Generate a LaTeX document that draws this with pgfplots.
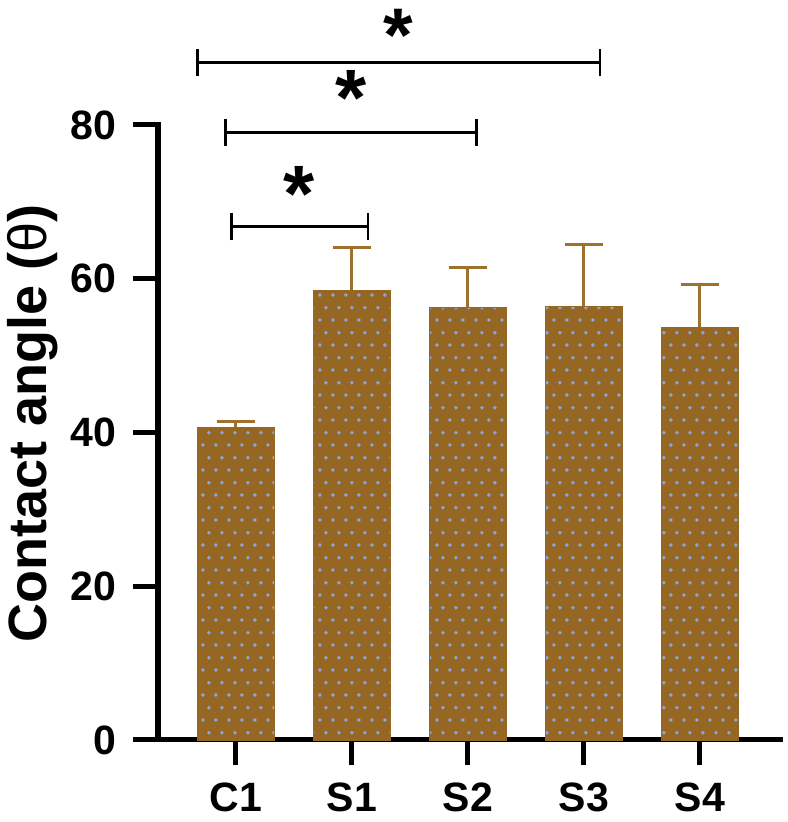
\documentclass[border=0pt]{standalone}
\usepackage{fontspec}
\setmainfont{Liberation Sans}
\usepackage{pgfplots}
\usepackage{pgfplotstable}
\pgfplotsset{compat=1.18}
\usetikzlibrary{patterns}
\definecolor{barc}{RGB}{150,102,35}
\definecolor{errc}{RGB}{160,112,45}
\definecolor{dotc}{RGB}{140,165,215}
\pgfdeclarepatternformonly{mydots}{\pgfqpoint{0pt}{0pt}}{\pgfqpoint{6.25pt}{12.4pt}}{\pgfqpoint{6.25pt}{12.4pt}}{%
  \pgfpathcircle{\pgfqpoint{1.5pt}{1.5pt}}{1.0pt}%
  \pgfpathcircle{\pgfqpoint{4.625pt}{7.7pt}}{1.0pt}%
  \pgfusepath{fill}%
}
\pgfplotstableread{
x y err
0 40.7 0.7
1 58.5 5.5
2 56.3 5.1
3 56.4 8.0
4 53.7 5.5
}\datatable
\begin{document}
\begin{tikzpicture}
\path[use as bounding box] (-79pt,-41pt) rectangle (314.5pt,370pt);
\begin{axis}[
  at={(0pt,0pt)}, anchor=south west,
  scale only axis, width=311pt, height=307.5pt,
  xmin=-0.67, xmax=4.69, ymin=0, ymax=80,
  axis x line=bottom, axis y line=left,
  axis line style={-, line width=2.5pt, black, line cap=rect},
  tick align=outside, major tick length=12.5pt,
  tick style={line width=2.5pt, black},
  xtick={0,1,2,3,4}, xticklabels={C1,S1,S2,S3,S4},
  ytick={0,20,40,60,80},
  /pgf/number format/assume math mode=true,
  ticklabel style={font=\fontsize{20.5}{24}\selectfont\bfseries},
  yticklabel style={xshift=-5pt},
  xticklabel style={yshift=-5.5pt},
  ylabel={Contact angle ({\mdseries θ})},
  ylabel style={font=\fontsize{27}{30}\selectfont\bfseries, inner sep=0pt, at={(axis description cs:-0.243,0.515)}, anchor=north},
  clip=false,
  unbounded coords=jump,
]
\addplot[ybar, bar width=38.5pt, bar shift=0pt, fill=barc, draw=barc, line width=0.3pt,
  postaction={pattern=mydots, pattern color=dotc},
  error bars/.cd, y dir=plus, y explicit,
  error bar style={line width=1.5pt, color=errc, solid},
  error mark options={rotate=90, mark size=9.5pt, line width=1.5pt, color=errc}]
  table[x=x, y=y, y error=err] {\datatable};
% significance brackets
\addplot[black, line width=1.3pt, mark=none] coordinates {(-0.037,65.0) (-0.037,68.55) (-0.037,nan) (-0.037,66.77) (1.14,66.77) (1.14,nan) (1.14,65.0) (1.14,68.55)};
\addplot[black, line width=1.3pt, mark=none] coordinates {(-0.086,77.3) (-0.086,80.8) (-0.086,nan) (-0.086,79.05) (2.075,79.05) (2.075,nan) (2.075,77.3) (2.075,80.8)};
\addplot[black, line width=1.3pt, mark=none] coordinates {(-0.33,86.35) (-0.33,89.85) (-0.33,nan) (-0.33,88.1) (3.14,88.1) (3.14,nan) (3.14,86.35) (3.14,89.85)};
\node[font=\fontsize{40}{40}\selectfont\bfseries, inner sep=0pt, anchor=base] at (axis cs:0.543,67.5) {*};
\node[font=\fontsize{40}{40}\selectfont\bfseries, inner sep=0pt, anchor=base] at (axis cs:0.991,79.9) {*};
\node[font=\fontsize{38}{38}\selectfont\bfseries, inner sep=0pt, anchor=base] at (axis cs:1.397,88.3) {*};
\end{axis}
\end{tikzpicture}
\end{document}
